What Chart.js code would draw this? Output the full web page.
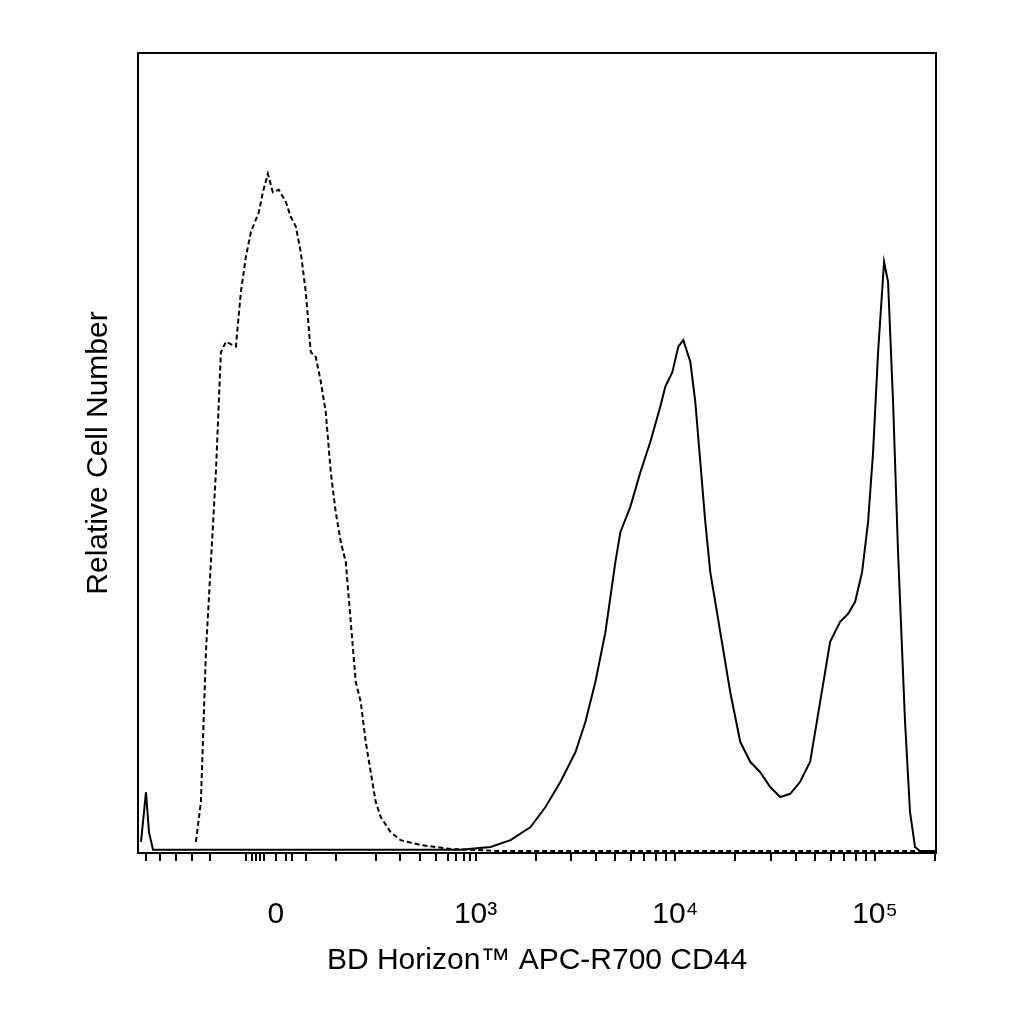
<!DOCTYPE html>
<html>
<head>
<script src="https://cdn.jsdelivr.net/npm/chart.js@4"></script>
<style>
  body { margin: 0; background: #fff; }
  #wrap { width: 1024px; height: 1024px; }
</style>
</head>
<body>
<div id="wrap"><canvas id="c" width="1024" height="1024"></canvas></div>
<script>
// x in display units: 0 -> 0, 1 -> 10^3, 2 -> 10^4, 3 -> 10^5
const isotypeX = [-0.4, -0.375, -0.35, -0.325, -0.3, -0.275, -0.25, -0.2, -0.175, -0.15, -0.125, -0.085, -0.065, -0.04, -0.015, 0.015, 0.05, 0.075, 0.1, 0.125, 0.15, 0.175, 0.2, 0.225, 0.25, 0.275, 0.3, 0.325, 0.35, 0.375, 0.4, 0.425, 0.45, 0.475, 0.5, 0.525, 0.575, 0.625, 0.725, 0.875, 1.125, 3.275];
const isotypeY = [1.4, 6.4, 25.1, 36.4, 47.6, 62.6, 63.9, 63.3, 70.1, 74.5, 77.6, 80.1, 82.6, 84.9, 82.6, 82.9, 81.4, 79.5, 78.3, 75.1, 70.1, 62.6, 62.0, 58.9, 55.1, 47.6, 42.6, 38.9, 36.4, 28.9, 21.4, 18.9, 13.9, 10.1, 6.4, 4.5, 2.6, 1.6, 1.0, 0.5, 0.25, 0.25];

const cd44X = [-0.675, -0.65, -0.635, -0.615, 0.925, 1.075, 1.175, 1.275, 1.35, 1.425, 1.5, 1.55, 1.6, 1.65, 1.7, 1.725, 1.775, 1.825, 1.875, 1.925, 1.95, 1.985, 2.015, 2.04, 2.075, 2.1, 2.125, 2.15, 2.175, 2.225, 2.275, 2.325, 2.375, 2.425, 2.475, 2.525, 2.575, 2.625, 2.675, 2.725, 2.775, 2.825, 2.865, 2.9, 2.935, 2.965, 2.99, 3.015, 3.045, 3.065, 3.09, 3.115, 3.15, 3.175, 3.2, 3.225, 3.3];
const cd44Y = [1.4, 7.6, 2.6, 0.4, 0.4, 0.75, 1.6, 3.25, 5.75, 8.9, 12.6, 16.4, 21.4, 27.6, 36.4, 40.1, 43.3, 47.6, 51.4, 55.8, 58.3, 60.1, 63.3, 64.1, 61.4, 56.4, 48.9, 41.4, 35.1, 27.6, 20.1, 13.9, 11.4, 10.1, 8.25, 7.0, 7.4, 8.9, 11.4, 18.9, 26.4, 28.9, 29.9, 31.4, 35.1, 41.4, 50.1, 62.6, 73.9, 71.4, 56.4, 37.6, 16.4, 5.1, 0.75, 0.25, 0.25];

const majorTicks = [0, 1, 2, 3];
const majorLabels = ['0', '10³', '10⁴', '10⁵'];
const minorTicks = [-0.65, -0.58, -0.5, -0.42, -0.33, -0.15, -0.12, -0.1, -0.08, -0.06, 0.05, 0.08, 0.15, 0.3, 0.5, 0.62, 0.72, 0.8, 0.86, 0.9, 0.94, 0.97,
  1.301, 1.477, 1.602, 1.699, 1.778, 1.845, 1.903, 1.954,
  2.301, 2.477, 2.602, 2.699, 2.778, 2.845, 2.903, 2.954, 3.301];

const toPts = (xs, ys) => xs.map((x, i) => ({ x: x, y: ys[i] }));

const frame = {
  id: 'frame',
  afterDraw(chart) {
    const { ctx, chartArea: a } = chart;
    ctx.save();
    ctx.strokeStyle = '#000';
    ctx.lineWidth = 2;
    ctx.strokeRect(a.left, a.top, a.right - a.left, a.bottom - a.top);
    ctx.restore();
  }
};

new Chart(document.getElementById('c'), {
  type: 'line',
  data: {
    datasets: [
      { data: toPts(isotypeX, isotypeY), borderColor: '#000', borderWidth: 2, borderDash: [5, 3], pointRadius: 0, tension: 0 },
      { data: toPts(cd44X, cd44Y), borderColor: '#000', borderWidth: 2, pointRadius: 0, tension: 0 }
    ]
  },
  options: {
    responsive: false,
    animation: false,
    layout: { padding: { top: 53, right: 88, left: 77, bottom: 45 } },
    plugins: { legend: { display: false }, tooltip: { enabled: false } },
    scales: {
      x: {
        type: 'linear', min: -0.69, max: 3.305,
        afterBuildTicks(axis) {
          axis.ticks = majorTicks.concat(minorTicks).map(v => ({ value: v }));
        },
        ticks: {
          autoSkip: false, maxRotation: 0, color: '#000', padding: 36,
          font: { family: 'Liberation Sans', size: 30 },
          callback: v => { const i = majorTicks.indexOf(v); return i >= 0 ? majorLabels[i] : ''; }
        },
        grid: { drawOnChartArea: false, tickLength: 8, color: '#000', lineWidth: 2 },
        border: { color: '#000', width: 2 },
        title: { display: true, text: 'BD Horizon™ APC-R700 CD44', color: '#000', padding: { top: -26, bottom: 0 },
          font: { family: 'Liberation Sans', size: 30 } }
      },
      y: {
        min: 0, max: 100,
        ticks: { display: false },
        grid: { display: false },
        border: { color: '#000', width: 2 },
        title: { display: true, text: 'Relative Cell Number', color: '#000', padding: { bottom: 13 },
          font: { family: 'Liberation Sans', size: 30 } }
      }
    }
  },
  plugins: [frame]
});
</script>
</body>
</html>
